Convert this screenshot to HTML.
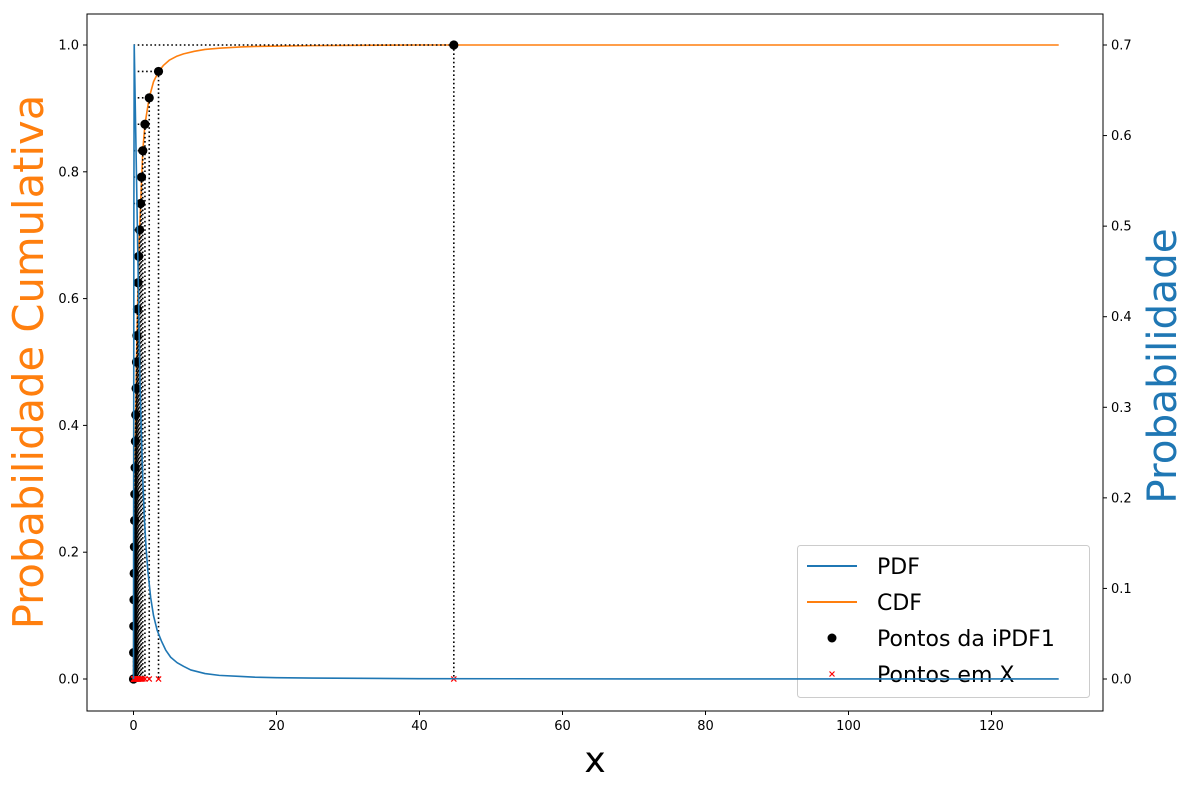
<!DOCTYPE html>
<html><head><meta charset="utf-8"><style>
html,body{margin:0;padding:0;background:#fff;}
svg{display:block;font-family:"DejaVu Sans","Liberation Sans",sans-serif;}
</style></head><body>
<svg id="chart" width="1189" height="790" xmlns="http://www.w3.org/2000/svg"></svg>
<script>
// ---- data ----
const pointProbs = [0,1/24,2/24,3/24,4/24,5/24,6/24,7/24,8/24,9/24,10/24,11/24,12/24,13/24,14/24,15/24,16/24,17/24,18/24,19/24,20/24,21/24,22/24,23/24,1];
const pointX = [0,0.02,0.045,0.07,0.095,0.124,0.155,0.188,0.225,0.265,0.309,0.359,0.414,0.477,0.549,0.633,0.732,0.85,1.0,1.12,1.3,1.6,2.2,3.5,44.8];
const cdfX = [0,0.02,0.07,0.155,0.265,0.414,0.633,0.85,1.0,1.3,1.6,2.2,2.8,3.5,4.2,5,6,7,8.5,10,12,15,18,25,40,60,90,129.4];
const cdfY = [0,0.042,0.125,0.25,0.375,0.5,0.625,0.708,0.75,0.833,0.875,0.917,0.942,0.958,0.968,0.976,0.982,0.986,0.99,0.993,0.995,0.997,0.998,0.999,1,1,1,1];
const pdfX = [0,0.05,0.1,0.5,0.9,1.1,1.3,1.5,1.75,2.0,2.4,2.8,3.3,3.9,4.5,5.2,6.1,7,8,10,12,15,17,20,25,40,70,100,129.4];
const pdfY = [0,0.5,0.7,0.518,0.33,0.27,0.22,0.18,0.146,0.12,0.09,0.07,0.054,0.042,0.032,0.024,0.018,0.014,0.01,0.006,0.004,0.0028,0.002,0.0015,0.001,0.0004,0.0001,0.00005,0.00003];
const xTicks = [0,20,40,60,80,100,120];
const yLeftTicks = [0,0.2,0.4,0.6,0.8,1.0];
const yRightTicks = [0,0.1,0.2,0.3,0.4,0.5,0.6,0.7];

// ---- scales ----
const L=87,R=1103,T=14,B=711;
const x = v => 133.5 + v*7.15;
const yL = v => 679 - v*634;
const yR = v => 679 - v*634/0.7;
const NS="http://www.w3.org/2000/svg";
const svg=document.getElementById('chart');
function mk(tag,attrs,parent){const e=document.createElementNS(NS,tag);for(const k in attrs)e.setAttribute(k,attrs[k]);(parent||svg).appendChild(e);return e;}

const defs=mk('defs',{});
const cp=mk('clipPath',{id:'clip'},defs);
mk('rect',{x:L,y:T,width:R-L,height:B-T},cp);

const plot=mk('g',{'clip-path':'url(#clip)'});



let d='';cdfX.forEach((v,i)=>{d+=(i?'L':'M')+x(v).toFixed(2)+','+yL(cdfY[i]).toFixed(2);});
const cdf=mk('path',{d:d,fill:'none',stroke:'#ff7f0e','stroke-width':1.6,'stroke-linejoin':'round'},plot);



pointX.forEach((v,i)=>{
  const h=mk('line',{x1:x(0),y1:yL(pointProbs[i]),x2:x(v),y2:yL(pointProbs[i]),stroke:'#000','stroke-width':1.6,'stroke-dasharray':'1.6,2.6'},plot);
  
  
  const vl=mk('line',{x1:x(v),y1:yL(pointProbs[i]),x2:x(v),y2:yL(0),stroke:'#000','stroke-width':1.6,'stroke-dasharray':'1.6,2.6'},plot);
  
  
});
pointX.forEach((v,i)=>{
  const c=mk('circle',{cx:x(v),cy:yL(pointProbs[i]),r:4.6,fill:'#000'},plot);
  
  
});
pointX.forEach((v)=>{
  const cx=x(v),cy=yL(0),s=2.6;
  const m=mk('path',{d:`M${cx-s},${cy-s}L${cx+s},${cy+s}M${cx-s},${cy+s}L${cx+s},${cy-s}`,stroke:'#ff0000','stroke-width':1.2,fill:'none'},plot);
  
  
});

const lg=mk('g',{});


mk('rect',{x:797.5,y:545.5,width:292,height:152,rx:3,fill:'#fff','fill-opacity':0.8,stroke:'#ccc'},lg);
const entries=[['PDF','#1f77b4','line'],['CDF','#ff7f0e','line'],['Pontos da iPDF1','#000','dot'],['Pontos em X','#f00','x']];
entries.forEach((e,i)=>{
  const yy=566+i*36;
  const g=mk('g',{},lg);
  
  
  if(e[2]==='line') mk('line',{x1:807,y1:yy,x2:857,y2:yy,stroke:e[1],'stroke-width':2},g);
  else if(e[2]==='dot') mk('circle',{cx:832,cy:yy,r:4.5,fill:'#000'},g);
  else mk('path',{d:`M829.5,${yy-2.5}L834.5,${yy+2.5}M829.5,${yy+2.5}L834.5,${yy-2.5}`,stroke:'#f00','stroke-width':1.2},g);
  const t=mk('text',{x:877,y:yy+8,'font-size':22,fill:'#000'},g);t.textContent=e[0];
});

const plot2=mk('g',{'clip-path':'url(#clip)'});
d='';pdfX.forEach((v,i)=>{d+=(i?'L':'M')+x(v).toFixed(2)+','+yR(pdfY[i]).toFixed(2);});
const pdf=mk('path',{d:d,fill:'none',stroke:'#1f77b4','stroke-width':1.6,'stroke-linejoin':'round'},plot2);



const fr=mk('rect',{x:L,y:T,width:R-L,height:B-T,fill:'none',stroke:'#000','stroke-width':1});



xTicks.forEach(v=>{
  mk('line',{x1:x(v),y1:B,x2:x(v),y2:B+4,stroke:'#000'});
  const t=mk('text',{x:x(v),y:B+19,'font-size':13,'text-anchor':'middle'});t.textContent=v;
  
  
});
yLeftTicks.forEach(v=>{
  mk('line',{x1:L-4,y1:yL(v),x2:L,y2:yL(v),stroke:'#000'});
  const t=mk('text',{x:L-8,y:yL(v)+4.5,'font-size':13,'text-anchor':'end'});t.textContent=v.toFixed(1);
  
  
});
yRightTicks.forEach(v=>{
  mk('line',{x1:R,y1:yR(v),x2:R+4,y2:yR(v),stroke:'#000'});
  const t=mk('text',{x:R+8,y:yR(v)+4.5,'font-size':13,'text-anchor':'start'});t.textContent=v.toFixed(1);
  
  
});

let t=mk('text',{x:595,y:772,'font-size':36,'text-anchor':'middle'});t.textContent='x';


t=mk('text',{x:0,y:0,'font-size':41.7,'text-anchor':'middle',fill:'#ff7f0e',transform:'translate(43,362) rotate(-90)'});t.textContent='Probabilidade Cumulativa';


t=mk('text',{x:0,y:0,'font-size':40.5,'text-anchor':'middle',fill:'#1f77b4',transform:'translate(1176,366) rotate(-90)'});t.textContent='Probabilidade';


</script>
</body></html>
